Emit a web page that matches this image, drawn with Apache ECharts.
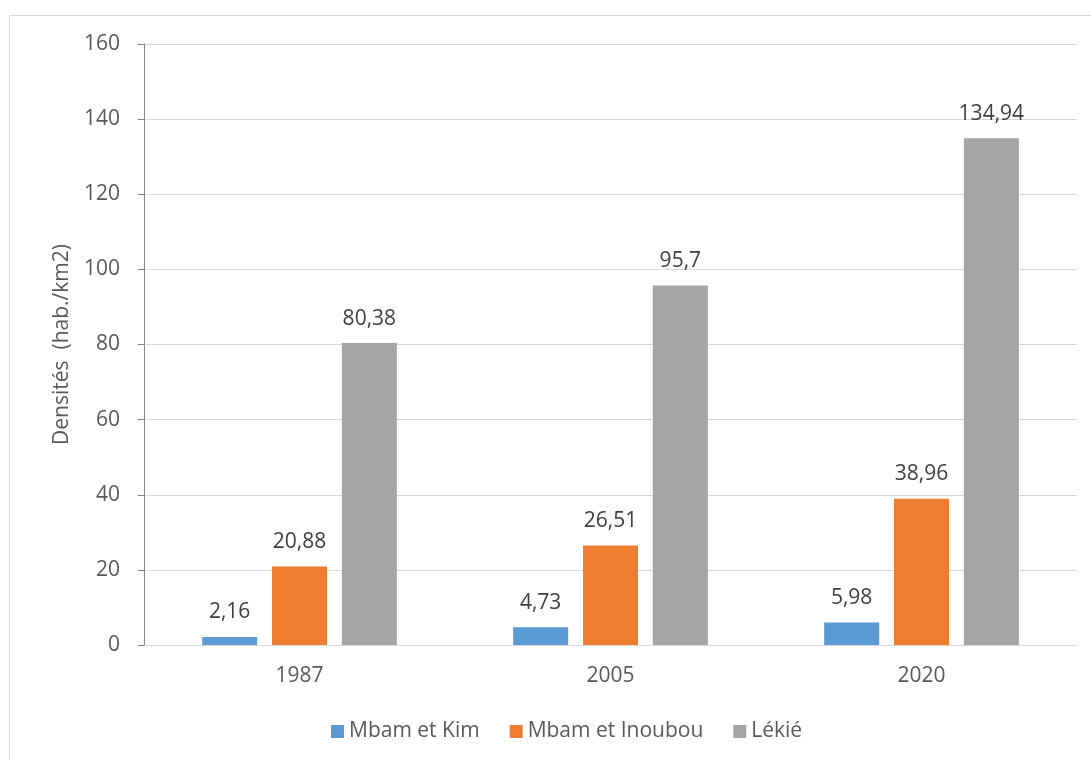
<!DOCTYPE html>
<html>
<head>
<meta charset="utf-8">
<script src="https://cdn.jsdelivr.net/npm/echarts@6/dist/echarts.min.js"></script>
<style>
  html, body { margin: 0; padding: 0; background: #fff; }
  #chart { width: 1091px; height: 760px; }
</style>
</head>
<body>
<div id="chart"></div>
<script>
const years = ["1987", "2005", "2020"];
const mbamKim = [2.16, 4.73, 5.98];
const mbamInoubou = [20.88, 26.51, 38.96];
const lekie = [80.38, 95.7, 134.94];

const font = "'Open Sans', 'Noto Sans', sans-serif";
const label = {
  show: true,
  position: "top",
  distance: 14,
  fontFamily: font,
  fontSize: 21,
  color: "#404040",
  formatter: (p) => String(p.value).replace(".", ",")
};

const chart = echarts.init(document.getElementById("chart"));
chart.setOption({
  animation: false,
  textStyle: {fontFamily: font},
  graphic: [{
    type: "rect",
    shape: {x: 9.5, y: 15.5, width: 1090, height: 760},
    style: {fill: "none", stroke: "#d9d9d9", lineWidth: 1}
  }],
  grid: {left: 144, right: 14, top: 44, bottom: 115},
  legend: {
    bottom: 13,
    left: 326,
    itemWidth: 13,
    itemHeight: 13,
    itemGap: 30,
    icon: "rect",
    textStyle: {fontFamily: font, fontSize: 21, color: "#595959"},
    data: ["Mbam et Kim", "Mbam et Inoubou", "Lékié"]
  },
  xAxis: {
    type: "category",
    data: years,
    axisLine: {lineStyle: {color: "#d9d9d9", width: 1}},
    axisTick: {show: false},
    axisLabel: {fontFamily: font, fontSize: 21, color: "#595959", margin: 21}
  },
  yAxis: {
    type: "value",
    min: 0,
    max: 160,
    interval: 20,
    name: "Densités  (hab./km2)",
    nameLocation: "middle",
    nameGap: 71,
    nameTextStyle: {fontFamily: font, fontSize: 21, color: "#595959"},
    axisLine: {show: true, lineStyle: {color: "#868686"}},
    axisTick: {show: true, inside: false, length: 6, lineStyle: {color: "#868686"}},
    axisLabel: {fontFamily: font, fontSize: 21, color: "#595959", margin: 24},
    splitLine: {lineStyle: {color: "#d9d9d9", width: 1}}
  },
  series: [
    {name: "Mbam et Kim", type: "bar", data: mbamKim, barWidth: 55, barGap: "27%",
      itemStyle: {color: "#5b9bd5"}, label: label},
    {name: "Mbam et Inoubou", type: "bar", data: mbamInoubou, barWidth: 55, barGap: "27%",
      itemStyle: {color: "#ed7d31"}, label: label},
    {name: "Lékié", type: "bar", data: lekie, barWidth: 55, barGap: "27%",
      itemStyle: {color: "#a5a5a5"}, label: label}
  ]
});
</script>
</body>
</html>
